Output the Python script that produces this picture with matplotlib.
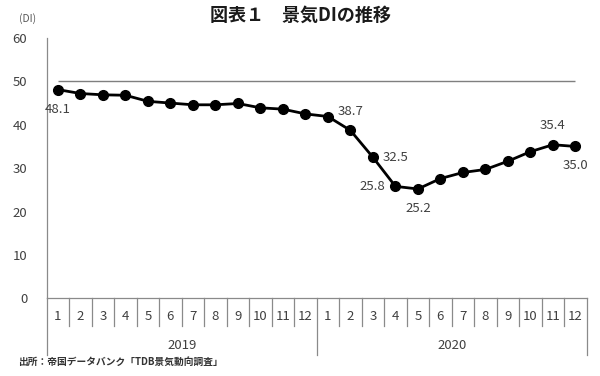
import numpy as np
import matplotlib.pyplot as plt

plt.rcParams['font.family'] = ['Noto Sans CJK JP', 'DejaVu Sans']

# データ（帝国データバンク 景気DI, 2019年1月〜2020年12月）
months = [str(m) for m in range(1, 13)] * 2
years = ['2019', '2020']
di = [48.1, 47.2, 46.9, 46.8, 45.4, 45.0, 44.6, 44.6, 44.9, 43.9, 43.6, 42.5,
      41.9, 38.7, 32.5, 25.8, 25.2, 27.6, 29.0, 29.7, 31.6, 33.8, 35.4, 35.0]
# 数値ラベルを付ける点 (index, 位置)
label_idx = [0, 13, 14, 15, 16, 22, 23]
label_pos = ['below', 'above', 'right', 'left', 'below', 'above', 'below']

txt_col = '#404040'
ax_col = '#8a8a8a'

fig = plt.figure(figsize=(6, 3.76), dpi=100)
ax = fig.add_axes([0.0778, 0.2066, 0.9, 0.6924])

x = np.arange(len(di))
ax.hlines(50, 0, len(di) - 1, color='#7f7f7f', lw=1.0, zorder=1)
ax.plot(x, di, color='black', lw=2.0, marker='o', ms=7, zorder=3)

ax.set_xlim(-0.5, len(di) - 0.5)
ax.set_ylim(0, 60)
ax.set_yticks(np.arange(0, 61, 10))
ax.tick_params(axis='y', length=0, pad=14, labelsize=9.5, labelcolor=txt_col)
ax.set_xticks([])
for s in ['top', 'right']:
    ax.spines[s].set_visible(False)
for s in ['left', 'bottom']:
    ax.spines[s].set_color(ax_col)
    ax.spines[s].set_linewidth(0.9)

# 月・年の区切り線とラベル
tr = ax.get_xaxis_transform()
h = 260.3  # axes高さ(px)
for i in range(len(di) + 1):
    long = (i % 12 == 0)
    y1 = -57 / h if long else -28 / h
    ax.plot([i - 0.5, i - 0.5], [0, y1], transform=tr, color=ax_col,
            lw=0.9, clip_on=False)
for i, m in enumerate(months):
    ax.text(i, -18.4 / h, m, transform=tr, ha='center', va='center',
            fontsize=9.5, color=txt_col)
for j, yr in enumerate(years):
    ax.text(j * 12 + 5.5, -46.7 / h, yr, transform=tr, ha='center',
            va='center', fontsize=9.5, color=txt_col)

# 数値ラベル
offs = {'below': ((0, -14), 'center'), 'above': ((0, 13.5), 'center'),
        'right': ((7, 0), 'left'), 'left': ((-7, 0), 'right')}
for i, p in zip(label_idx, label_pos):
    off, ha = offs[p]
    ax.annotate(f'{di[i]:.1f}', (x[i], di[i]), xytext=off,
                textcoords='offset points', ha=ha, va='center',
                fontsize=9.5, color=txt_col)

fig.text(0.5008, 1 - 15 / 376, '図表１　景気DIの推移', ha='center', va='center',
         fontsize=13, fontweight='bold', color='#1a1a1a')
fig.text(27.7 / 600, 1 - 19 / 376, '(DI)', ha='center', va='center',
         fontsize=7.5, color='#595959')
fig.text(18 / 600, 1 - 361.7 / 376, '出所：帝国データバンク「TDB景気動向調査」',
         ha='left', va='center', fontsize=7, fontweight='bold', color='#333333')

fig.savefig('out.png', dpi=100)
